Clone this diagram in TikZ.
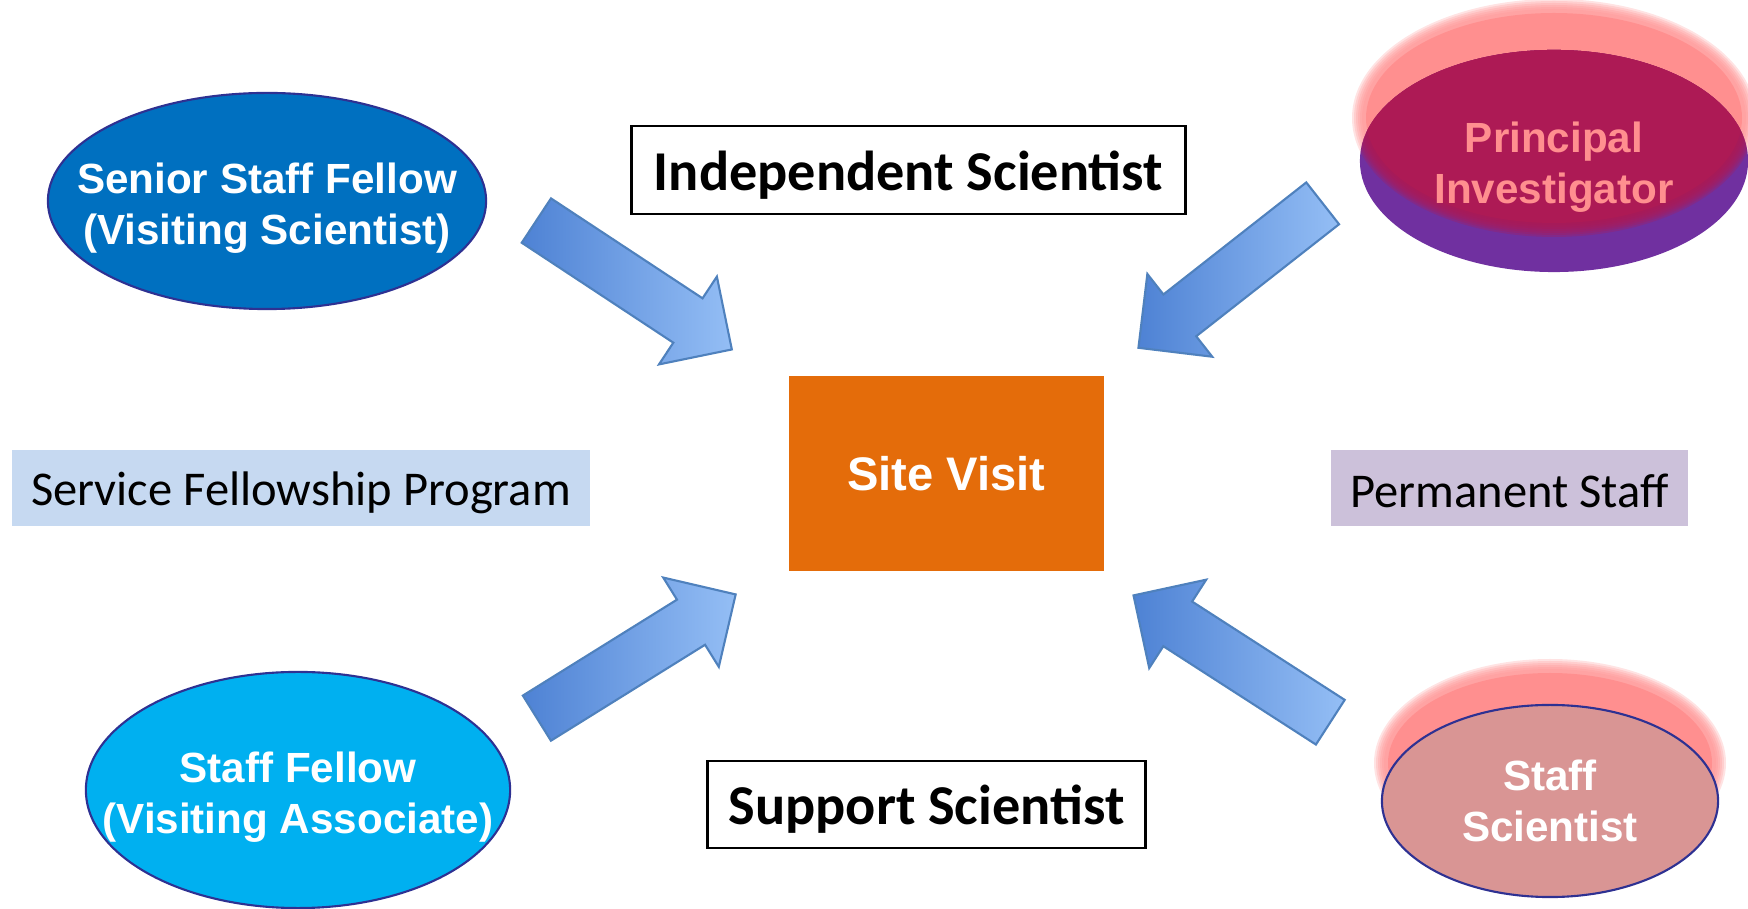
\documentclass[tikz,border=0pt]{standalone}
\usepackage{fontspec}
\setmainfont{Liberation Sans}
\newfontfamily\calibri{Carlito}
\usepackage{xcolor}
\usepackage{tikz}
\usetikzlibrary{shapes,
								arrows,
								positioning,
								shapes.geometric,
								shapes.arrows}
\definecolor{seniorblue}{RGB}{0,112,192}
\definecolor{fellowblue}{RGB}{0,176,240}
\definecolor{rimblue}{RGB}{46,49,146}
\definecolor{crimson}{RGB}{173,26,85}
\definecolor{pipurple}{RGB}{112,48,160}
\definecolor{glowpink}{RGB}{255,143,143}
\definecolor{rosefill}{RGB}{217,149,148}
\definecolor{siteorange}{RGB}{228,108,10}
\definecolor{lightblue}{RGB}{198,217,241}
\definecolor{lavender}{RGB}{204,193,218}
\definecolor{arrowdark}{RGB}{78,130,212}
\definecolor{arrowlight}{RGB}{148,190,245}
\definecolor{arrowrim}{RGB}{79,129,189}

% invisible strut, pushes the first text line down a little
\newcommand{\topgap}[1]{\rule{0pt}{#1}}

\tikzset{
  ovalbox/.style={ellipse, inner xsep=-1cm, inner ysep=0pt, align=center, text=white,
    font=\fontsize{12}{14.5}\selectfont\bfseries},
  labelbox/.style={draw, line width=0.8pt, inner sep=0pt,
    font=\calibri\bfseries\fontsize{16}{19}\selectfont},
  bandbox/.style={inner sep=0pt, font=\calibri\fontsize{13.8}{17}\selectfont},
  textdrop/.style={execute at begin node={\topgap{#1}}},
  blockarrow/.style={single arrow, anchor=tail, inner xsep=0pt, inner ysep=0.255cm,
    single arrow head extend=0.26cm, single arrow tip angle=90,
    minimum height=2.34cm,
    draw=arrowrim, line width=0.6pt, left color=arrowdark, right color=arrowlight}
}

\begin{document}
\begin{tikzpicture}[x=0.01cm, y=0.01cm]
  \useasboundingbox (0,0) rectangle (1748,909);

  % soft pink glow behind the two right ellipses
  \foreach \d in {8,6,4,2,0,-2} {
    \fill[glowpink, opacity=0.25] (1554,791) ellipse ({194+\d} and {111+\d});
    \fill[glowpink, opacity=0.25] (1550,146) ellipse ({168+\d} and {96+\d});
  }
  \fill[glowpink] (1554,791) ellipse (188 and 105);
  \fill[glowpink] (1550,146) ellipse (162 and 90);

  % ellipses
  \node[ovalbox, fill=seniorblue, draw=rimblue, line width=0.6pt,
        minimum width=4.38cm, minimum height=2.16cm]
        (senior) at (267,708) {\topgap{13pt}Senior Staff Fellow\\(Visiting Scientist)};
  \node[ovalbox, fill=fellowblue, draw=rimblue, line width=0.6pt,
        minimum width=4.24cm, minimum height=2.36cm]
        (fellow) at (298,119) {\topgap{13pt}Staff Fellow\\(Visiting Associate)};
  \node[ovalbox, fill=pipurple, text=glowpink,
        minimum width=3.88cm, minimum height=2.22cm,
        path picture={
          \foreach \d in {8,6,4,2,0,-2,-4}
            \fill[crimson, opacity=0.3] ([yshift=0.43cm]path picture bounding box.center)
              ellipse ({194+\d} and {111+\d});
          \fill[crimson] ([yshift=0.43cm]path picture bounding box.center) ellipse (188 and 105);
        }]
        (pi) at (1554,748) {\topgap{12pt}Principal\\Investigator};
  \node[ovalbox, fill=rosefill, draw=rimblue, line width=0.6pt,
        minimum width=3.36cm, minimum height=1.92cm]
        (staffsci) at (1550,108) {Staff\\Scientist};

  % boxes
  \node[labelbox, textdrop=14pt, minimum width=5.53cm, minimum height=0.88cm]
        (independent) at (908.5,739) {Independent Scientist};
  \node[labelbox, textdrop=14pt, minimum width=4.37cm, minimum height=0.87cm]
        (support) at (926.5,104.5) {Support Scientist};
  \node[bandbox, textdrop=12.3pt, fill=lightblue, minimum width=5.78cm, minimum height=0.76cm]
        (service) at (301,421) {Service Fellowship Program};
  \node[bandbox, textdrop=11pt, fill=lavender, minimum width=3.57cm, minimum height=0.76cm]
        (permanent) at (1509.5,421) {Permanent Staff};
  \node[fill=siteorange, text=white, inner sep=0pt,
        minimum width=3.15cm, minimum height=1.95cm,
        font=\fontsize{13.4}{16}\selectfont\bfseries]
        (site) at (946.5,435.5) {Site Visit};

  % block arrows towards the site visit
  \node[blockarrow, rotate=-33.4] (arrowsenior) at (535.5,689) {};
  \node[blockarrow, rotate=218.1] (arrowpi) at (1323.5,706.3) {};
  \node[blockarrow, rotate=31.9] (arrowfellow) at (536,190.3) {};
  \node[blockarrow, rotate=147.2] (arrowstaff) at (1331.2,186.2) {};

\end{tikzpicture}
\end{document}
